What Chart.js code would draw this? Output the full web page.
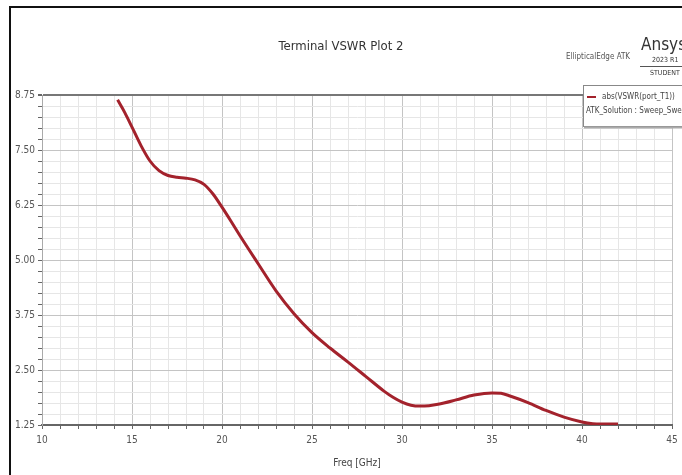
<!DOCTYPE html>
<html>
<head>
<meta charset="utf-8">
<script src="https://cdn.jsdelivr.net/npm/chart.js@4.4.1/dist/chart.umd.min.js"></script>
<style>
  html, body { margin: 0; padding: 0; background: #fff; overflow: hidden; }
  #wrap { position: relative; width: 720px; height: 475px; }
  #frame { position: absolute; left: 9px; top: 6px; width: 760px; height: 520px; border: 2px solid #111; box-sizing: border-box; }
  canvas { position: absolute; left: 0; top: 0; }
</style>
</head>
<body>
<div id="wrap">
  <div id="frame"></div>
  <canvas id="vswrChart" width="720" height="475"></canvas>
</div>
<script>
// frequency (GHz) and abs(VSWR)
const freqGHz = [14.2, 14.6, 15.0, 15.5, 16.0, 16.5, 17.0, 17.5, 18.0, 18.5, 19.0, 19.5,
  20.0, 20.5, 21.0, 22.0, 23.0, 24.0, 25.0, 26.0, 27.0, 28.0, 29.0, 29.5, 30.0, 30.5,
  31.0, 31.5, 32.0, 33.0, 34.0, 35.0, 35.5, 36.0, 37.0, 38.0, 39.0, 40.0, 40.6, 41.0, 42.0];
const vswr = [8.64, 8.35, 8.02, 7.60, 7.25, 7.03, 6.92, 6.88, 6.86, 6.82, 6.72, 6.50,
  6.20, 5.88, 5.55, 4.92, 4.30, 3.78, 3.35, 3.00, 2.68, 2.35, 2.02, 1.88, 1.77, 1.70,
  1.68, 1.69, 1.72, 1.82, 1.93, 1.98, 1.97, 1.91, 1.76, 1.58, 1.43, 1.32, 1.28, 1.27, 1.27];

const xTickLabels = [10, 15, 20, 25, 30, 35, 40, 45];
const yTickLabels = [1.25, 2.50, 3.75, 5.00, 6.25, 7.50, 8.75];
const seriesName = 'abs(VSWR(port_T1))';
const solutionName = 'ATK_Solution : Sweep_Sweep';

const narrow = "'Liberation Sans Narrow', 'DejaVu Sans Condensed', sans-serif";

const points = freqGHz.map((f, i) => ({ x: f, y: vswr[i] }));

function isMajor(list, v) {
  return list.some(t => Math.abs(t - v) < 1e-6);
}

// extra texts: title, ansys stamp, legend box
const decorations = {
  id: 'decorations',
  afterDraw(chart) {
    const c = chart.ctx;
    c.save();
    c.fillStyle = '#333';
    c.textAlign = 'center';
    c.textBaseline = 'middle';
    c.font = '13px ' + narrow;
    c.fillText('Terminal VSWR Plot 2', 341, 47);

    c.font = '8px ' + narrow;
    c.fillStyle = '#555';
    c.fillText('EllipticalEdge ATK', 598, 57);

    c.textAlign = 'left';
    c.fillStyle = '#333';
    c.font = '17px ' + narrow;
    c.fillText('Ansys', 641, 46);
    c.font = '7px ' + narrow;
    c.fillText('2023 R1', 652, 60);
    c.strokeStyle = '#555';
    c.lineWidth = 1;
    c.beginPath();
    c.moveTo(640, 66.5);
    c.lineTo(720, 66.5);
    c.stroke();
    c.fillText('STUDENT', 650, 73);

    // legend box
    c.fillStyle = '#fff';
    c.fillRect(583, 85, 140, 41);
    c.strokeStyle = '#888';
    c.lineWidth = 1;
    c.strokeRect(583.5, 85.5, 140, 41);
    c.strokeStyle = '#aaa';
    c.lineWidth = 2;
    c.beginPath();
    c.moveTo(584, 127.5);
    c.lineTo(724, 127.5);
    c.stroke();
    c.strokeStyle = '#a3222c';
    c.lineWidth = 2;
    c.beginPath();
    c.moveTo(587, 97);
    c.lineTo(596, 97);
    c.stroke();
    c.fillStyle = '#444';
    c.font = '8px ' + narrow;
    c.fillText(seriesName, 602, 97);
    c.fillText(solutionName, 586, 111);
    c.restore();
  }
};

new Chart(document.getElementById('vswrChart'), {
  type: 'line',
  data: {
    datasets: [{
      label: seriesName,
      data: points,
      borderColor: '#a3222c',
      borderWidth: 3,
      pointRadius: 0,
      tension: 0.4,
      cubicInterpolationMode: 'monotone',
      fill: false
    }]
  },
  options: {
    responsive: false,
    animation: false,
    layout: { padding: { left: 10, right: 48, top: 95, bottom: 0 } },
    plugins: {
      legend: { display: false },
      title: { display: false },
      tooltip: { enabled: false }
    },
    scales: {
      x: {
        type: 'linear',
        min: 10,
        max: 45,
        afterFit: scale => { scale.height = 50; },
        ticks: {
          stepSize: 1,
          autoSkip: false,
          maxRotation: 0,
          padding: 5,
          color: '#555',
          font: { family: narrow, size: 10 },
          callback: v => isMajor(xTickLabels, v) ? String(v) : ''
        },
        grid: {
          drawTicks: true,
          tickLength: 4,
          tickColor: '#666',
          color: ctx => isMajor(xTickLabels, ctx.tick.value) ? '#c4c4c4' : '#e6e6e6',
          lineWidth: 1
        },
        border: { display: true, color: '#666', width: 2 },
        title: {
          display: true,
          text: 'Freq [GHz]',
          color: '#444',
          font: { family: narrow, size: 10 },
          padding: { top: 0, bottom: 6 }
        }
      },
      y: {
        min: 1.25,
        max: 8.75,
        afterFit: scale => { scale.width = 32; },
        ticks: {
          stepSize: 0.25,
          autoSkip: false,
          padding: 3,
          color: '#555',
          font: { family: narrow, size: 10 },
          callback: v => isMajor(yTickLabels, v) ? v.toFixed(2) : ''
        },
        grid: {
          drawTicks: true,
          tickLength: 4,
          tickColor: '#666',
          color: ctx => {
            const v = ctx.tick.value;
            if (Math.abs(v - 8.75) < 1e-6) return '#777';
            return isMajor(yTickLabels, v) ? '#c4c4c4' : '#e6e6e6';
          },
          lineWidth: ctx => Math.abs(ctx.tick.value - 8.75) < 1e-6 ? 2 : 1
        },
        border: { display: true, color: '#aaa', width: 1 }
      }
    }
  },
  plugins: [decorations]
});
</script>
</body>
</html>
